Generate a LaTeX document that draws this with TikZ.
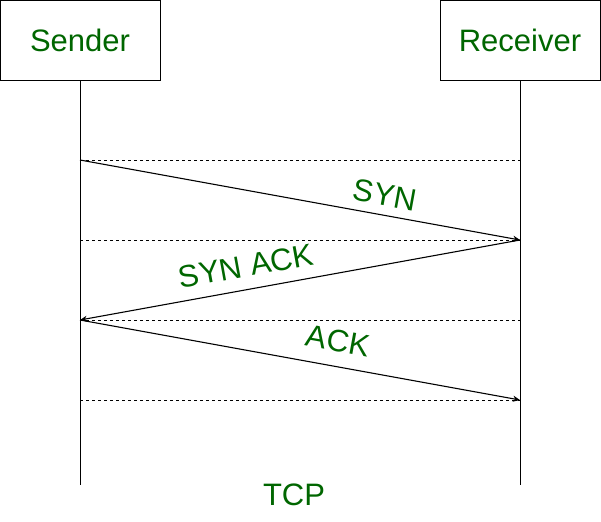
\documentclass[tikz,border=0pt]{standalone}
\usepackage{fontspec}
\setmainfont{Liberation Sans}
\usetikzlibrary{arrows.meta}
\definecolor{lbl}{RGB}{0,102,0}
\begin{document}
\begin{tikzpicture}[x=1pt,y=-1pt,
  actor/.style={draw=black,line width=0.9pt,minimum width=160pt,minimum height=80pt,inner sep=0pt,text=lbl,font=\fontsize{31}{36}\selectfont},
  life/.style={draw=black,line width=0.9pt},
  gap/.style={draw=black,line width=0.8pt,dash pattern=on 3pt off 3pt},
  msg/.style={draw=black,line width=1.1pt,-{Stealth[length=7pt,width=6pt]}},
  lab/.style={text=lbl,font=\fontsize{31}{36}\selectfont,inner sep=0pt}]
\useasboundingbox (0,0) rectangle (601,521);
\node[actor] (s) at (80,40) {Sender};
\node[actor] (r) at (520,40) {Receiver};
\coordinate (sb) at (80,485);
\coordinate (rb) at (520,485);
\draw[life] (s.south) -- (sb);
\draw[life] (r.south) -- (rb);
\foreach \y/\n in {160/a,240/b,320/c,400/d}{
  \coordinate (s\n) at (80,\y);
  \coordinate (r\n) at (520,\y);
  \draw[gap] (s\n) -- (r\n);
}
\draw[msg] (sa) -- (rb);
\draw[msg] (rb) -- (sc);
\draw[msg] (sc) -- (rd);
\node[lab,rotate=-10.3] (syn) at (385,195) {SYN};
\node[lab,rotate=10.3] (synack) at (246,266) {SYN ACK};
\node[lab,rotate=-10.3] (ack) at (338,341) {ACK};
\node[lab] (tcp) at (294,495) {TCP};
\end{tikzpicture}
\end{document}
